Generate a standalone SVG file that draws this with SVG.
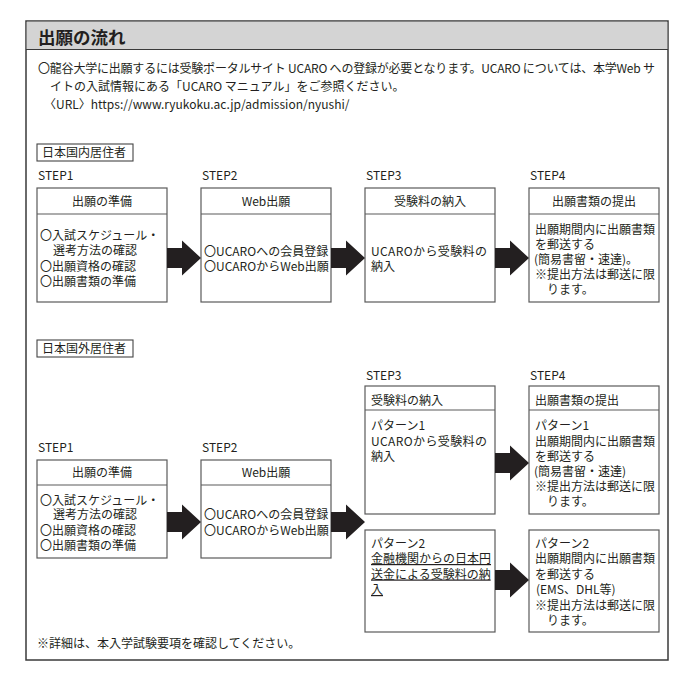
<svg xmlns="http://www.w3.org/2000/svg" width="692" height="681" viewBox="0 0 692 681">
<style>
text{font-family:"Noto Sans CJK JP","Noto Sans",sans-serif;fill:#231f20;font-size:12px}
.title{font-size:17.5px;font-weight:bold}
.box{fill:#fff;stroke:#5a5a5a;stroke-width:1.2}
.div{stroke:#5a5a5a;stroke-width:1.2}
.tag{fill:#fff;stroke:#444;stroke-width:1.1}
.c{text-anchor:middle}
.u{text-decoration:underline}
.arr{fill:#231f20}
</style>
<rect width="692" height="681" fill="#fff"/>
<g id="frame">
<rect x="26" y="21" width="642" height="639" fill="#fff" stroke="#3a3a3a" stroke-width="1.5"/>
<rect x="26.75" y="21.75" width="640.5" height="27.5" fill="#d4d4d4"/>
<line x1="26" y1="49.5" x2="668" y2="49.5" stroke="#3a3a3a" stroke-width="1.2"/>
<text class="title" x="38" y="44">出願の流れ</text>
</g>
<g id="intro">
<text x="38" y="72.5" textLength="617" lengthAdjust="spacing">〇龍谷大学に出願するには受験ポータルサイト UCARO への登録が必要となります。UCARO については、本学Web サ</text>
<text x="50" y="90.5">イトの入試情報にある「UCARO マニュアル」をご参照ください。</text>
<text x="44" y="108.5">〈URL〉https://www.ryukoku.ac.jp/admission/nyushi/</text>
</g>

<!-- Section 1 -->
<g id="tag-domestic">
<rect class="tag" x="37" y="144" width="96" height="17"/>
<text x="42" y="157">日本国内居住者</text>
</g>
<g id="d-step1">
<text x="38" y="180">STEP1</text>
<rect class="box" x="37" y="188" width="130" height="114"/>
<line class="div" x1="37" y1="214" x2="167" y2="214"/>
<text class="c" x="102" y="206">出願の準備</text>
<text x="40" y="239.5">〇入試スケジュール・</text>
<text x="53" y="255">選考方法の確認</text>
<text x="40" y="270.5">〇出願資格の確認</text>
<text x="40" y="286">〇出願書類の準備</text>
</g>
<g id="d-step2">
<text x="202" y="180">STEP2</text>
<rect class="box" x="201" y="188" width="130" height="114"/>
<line class="div" x1="201" y1="214" x2="331" y2="214"/>
<text class="c" x="266" y="206">Web出願</text>
<text x="204" y="255.5">〇UCAROへの会員登録</text>
<text x="204" y="271">〇UCAROからWeb出願</text>
</g>
<g id="d-step3">
<text x="366" y="180">STEP3</text>
<rect class="box" x="365" y="188" width="130" height="114"/>
<line class="div" x1="365" y1="214" x2="495" y2="214"/>
<text class="c" x="430" y="206">受験料の納入</text>
<text x="371" y="256" textLength="116" lengthAdjust="spacing">UCAROから受験料の</text>
<text x="371" y="271">納入</text>
</g>
<g id="d-step4">
<text x="530" y="180">STEP4</text>
<rect class="box" x="529" y="188" width="130" height="114"/>
<line class="div" x1="529" y1="214" x2="659" y2="214"/>
<text class="c" x="594" y="206">出願書類の提出</text>
<text x="535" y="233.5">出願期間内に出願書類</text>
<text x="535" y="248.5">を郵送する</text>
<text x="534" y="263.5">(簡易書留・速達)。</text>
<text x="535" y="278.5">※提出方法は郵送に限</text>
<text x="547" y="293.5">ります。</text>
</g>

<!-- Section 2 -->
<g id="tag-overseas">
<rect class="tag" x="37" y="340" width="96" height="17"/>
<text x="42" y="353">日本国外居住者</text>
</g>
<g id="o-step1">
<text x="38" y="452">STEP1</text>
<rect class="box" x="37" y="460" width="130" height="98"/>
<line class="div" x1="37" y1="485" x2="167" y2="485"/>
<text class="c" x="102" y="477">出願の準備</text>
<text x="40" y="504.5">〇入試スケジュール・</text>
<text x="53" y="519">選考方法の確認</text>
<text x="40" y="534.5">〇出願資格の確認</text>
<text x="40" y="549.5">〇出願書類の準備</text>
</g>
<g id="o-step2">
<text x="202" y="452">STEP2</text>
<rect class="box" x="201" y="460" width="130" height="98"/>
<line class="div" x1="201" y1="485" x2="331" y2="485"/>
<text class="c" x="266" y="477">Web出願</text>
<text x="204" y="519">〇UCAROへの会員登録</text>
<text x="204" y="534.5">〇UCAROからWeb出願</text>
</g>
<g id="o-step3-p1">
<text x="366" y="379.5">STEP3</text>
<rect class="box" x="365" y="386" width="130" height="128"/>
<line class="div" x1="365" y1="410" x2="495" y2="410"/>
<text x="371" y="404.5">受験料の納入</text>
<text x="371" y="430">パターン1</text>
<text x="371" y="445.5" textLength="116" lengthAdjust="spacing">UCAROから受験料の</text>
<text x="371" y="461">納入</text>
</g>
<g id="o-step4-p1">
<text x="530" y="379.5">STEP4</text>
<rect class="box" x="529" y="386" width="130" height="128"/>
<line class="div" x1="529" y1="410" x2="659" y2="410"/>
<text x="535" y="404.5">出願書類の提出</text>
<text x="535" y="430">パターン1</text>
<text x="535" y="445.5">出願期間内に出願書類</text>
<text x="535" y="461">を郵送する</text>
<text x="534" y="476">(簡易書留・速達)</text>
<text x="535" y="491">※提出方法は郵送に限</text>
<text x="547" y="506">ります。</text>
</g>
<g id="o-step3-p2">
<rect class="box" x="365" y="530" width="130" height="102"/>
<text x="371" y="547.5">パターン2</text>
<text class="u" x="371" y="563">金融機関からの日本円</text>
<text class="u" x="371" y="578.5">送金による受験料の納</text>
<text class="u" x="371" y="594">入</text>
</g>
<g id="o-step4-p2">
<rect class="box" x="529" y="530" width="130" height="102"/>
<text x="535" y="547.5">パターン2</text>
<text x="535" y="563">出願期間内に出願書類</text>
<text x="535" y="578.5">を郵送する</text>
<text x="536" y="594">(EMS、DHL等)</text>
<text x="535" y="609.5">※提出方法は郵送に限</text>
<text x="547" y="625">ります。</text>
</g>
<g id="footnote">
<text x="37" y="647.5">※詳細は、本入学試験要項を確認してください。</text>
</g>

<g id="connectors">
<path class="arr" d="M167,248 H182 V240.5 L201,258 L182,275.5 V268 H167 Z"/>
<path class="arr" d="M331,248 H346 V240.5 L365,258 L346,275.5 V268 H331 Z"/>
<path class="arr" d="M495,248 H510 V240.5 L529,258 L510,275.5 V268 H495 Z"/>
<path class="arr" d="M167,512 H182 V504.5 L201,522 L182,539.5 V532 H167 Z"/>
<path class="arr" d="M331,512 H346 V504.5 L365,522 L346,539.5 V532 H331 Z"/>
<path class="arr" d="M495,453 H510 V445.5 L529,463 L510,480.5 V473 H495 Z"/>
<path class="arr" d="M495,570 H510 V562.5 L529,580 L510,597.5 V590 H495 Z"/>
</g>
</svg>
